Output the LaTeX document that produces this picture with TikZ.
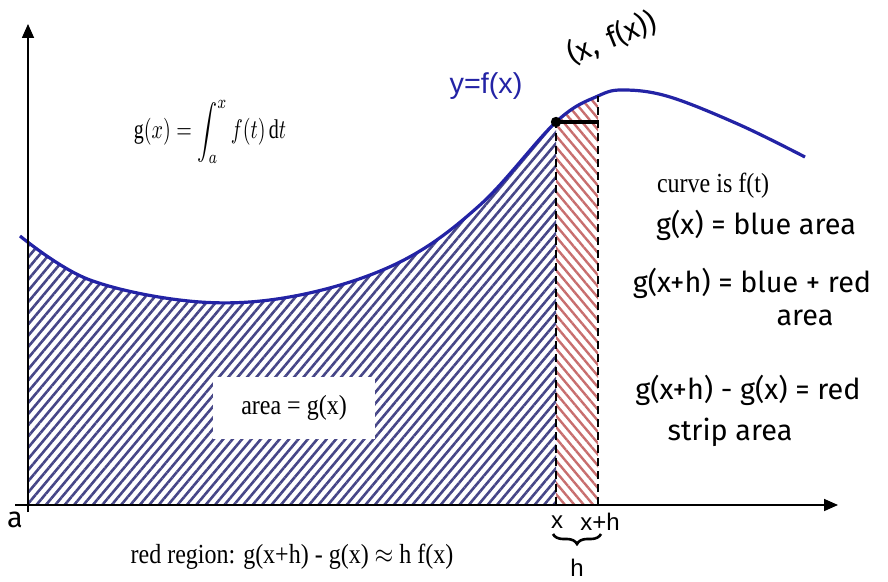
\documentclass[tikz,border=0pt]{standalone}
\usepackage{amsmath}
\usepackage{graphicx}
\usepackage{fontspec}
\setmainfont{Liberation Serif}
\setsansfont{Liberation Sans}
\newfontfamily\handfont{Fira Sans}
\usetikzlibrary{arrows.meta,patterns.meta,decorations.pathreplacing}

\definecolor{curveblue}{RGB}{35,35,165}
\definecolor{hatchblue}{RGB}{70,70,135}
\definecolor{hatchred}{RGB}{200,110,110}

\tikzset{
	axis/.style={line width=0.8pt, -{Triangle[length=7pt,width=6pt]}},
	stripline/.style={line width=1.4pt, dash pattern=on 4pt off 2.5pt},
	hand/.style={font=\handfont\Large},
	serifnote/.style={font=\large},
}

\begin{document}
\begin{tikzpicture}[x=0.5pt, y=-0.5pt]
	\useasboundingbox (0,0) rectangle (888,582);
	% axes
	\coordinate (xl) at (15,505);
	\coordinate (xr) at (838,505);
	\coordinate (yb) at (28,512);
	\coordinate (yt) at (28,24);
	% strip edges
	\coordinate (xb) at (556,505);
	\coordinate (xhb) at (598,505);
	\coordinate (P) at (556,122);
	\coordinate (Q) at (598,96);
	% hatched areas under f
	\begin{scope}
		\clip (28,505) -- plot[smooth, tension=0.6] coordinates {(20,236) (90,280) (200,302) (300,295) (400,262) (480,205) (556,122) (598,96) (625,90) (670,97) (740,125) (805,157)} -- (805,505) -- cycle;
		\fill[pattern={Lines[angle=50, distance=3.6pt, line width=1.3pt]}, pattern color=hatchblue] (yt |- 0,0) rectangle (xb);
		\fill[pattern={Lines[angle=-50, distance=3.6pt, line width=1.2pt]}, pattern color=hatchred] (P |- 0,0) rectangle (xhb);
	\end{scope}
	\draw[curveblue, line width=1.6pt] plot[smooth, tension=0.6] coordinates {(20,236) (90,280) (200,302) (300,295) (400,262) (480,205) (556,122) (598,96) (625,90) (670,97) (740,125) (805,157)};
	\draw[axis] (xl) -- (xr);
	\draw[axis] (yb) -- (yt);
	\draw[stripline] (xb) -- (P);
	\draw[stripline] (xhb) -- (Q);
	\draw[line width=2.2pt] (P) -- (P -| Q);
	\fill (P) circle (2.6pt);
	% labels
	\node[font=\sffamily\Large, text=curveblue] (ylab) at (486,86) {y=f(x)};
	\node[hand, rotate=22, inner sep=0pt] (pt) at (612,38) {(x,\hspace{0.4em}f(x))};
	\node (gdef) at (210,132) {\scalebox{1}[1.35]{$\mathrm{g}(x) = \displaystyle\int_a^x f(t)\,\mathrm{d}t$}};
	\node[fill=white, minimum width=81pt, minimum height=31pt, serifnote] (area) at (294,408) {\scalebox{1}[1.15]{area = g(x)}};
	\node[serifnote] (curve) at (713,186) {\scalebox{1}[1.15]{curve is f(t)}};
	\node[font=\sffamily\large] (xlab) at (557,522) {x};
	\node[font=\sffamily\large] (xhlab) at (600,522) {x+h};
	\draw[decorate, decoration={brace, mirror, amplitude=5pt}, line width=1.3pt] (553,534) -- (601,534);
	\node[font=\sffamily\large] (hlab) at (577,568) {h};
	\node[hand] (alab) at (15,520) {a};
	\node[serifnote] (red) at (292,557) {\scalebox{1}[1.15]{red region: g(x+h) - g(x) $\approx$ h f(x)}};
	% notes
	\node[hand] (n1) at (756,225) {g(x) = blue area};
	\node[hand] (n2) at (752,283) {g(x+h) = blue + red};
	\node[hand] (n3) at (805,318) {area};
	\node[hand] (n4) at (748,390) {g(x+h) - g(x) = red};
	\node[hand] (n5) at (730,432) {strip area};
\end{tikzpicture}
\end{document}
